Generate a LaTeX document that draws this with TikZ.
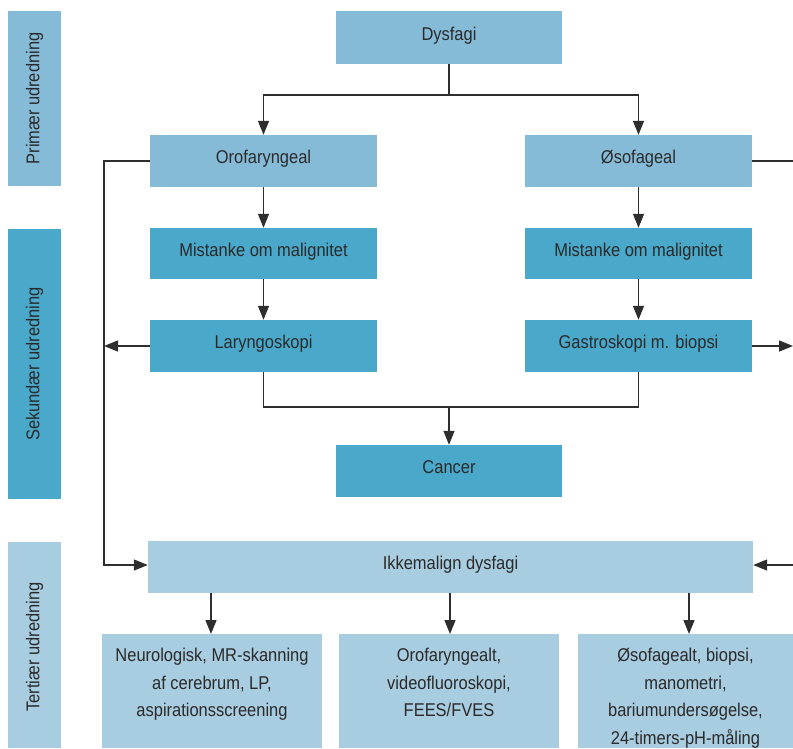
\documentclass[tikz,border=0pt]{standalone}
\usepackage{fontspec}
\setmainfont{Liberation Sans}[FakeStretch=0.89]
\usetikzlibrary{arrows.meta}
\definecolor{cA}{HTML}{86BBD8}
\definecolor{cB}{HTML}{4AA8CA}
\definecolor{cC}{HTML}{A8CCE0}
\definecolor{ink}{HTML}{2A2A2A}
\definecolor{ln}{HTML}{2E2E2E}
\tikzset{
  box/.style={inner sep=0pt, text=ink, font=\fontsize{18.5}{27.5}\selectfont, align=center},
  one/.style={text height=13.5pt, text depth=8pt},
  boxA/.style={box, one, fill=cA, minimum width=227pt, minimum height=52pt},
  boxB/.style={box, one, fill=cB, minimum width=227pt, minimum height=52pt},
  boxC/.style={box, fill=cC},
  bar/.style={inner sep=0pt, minimum width=53pt},
  bartext/.style={rotate=90, text=ink, font=\fontsize{18.5}{20}\selectfont},
  conn/.style={draw=ln, line width=1.4pt},
  arr/.style={conn, -{Triangle[length=14pt,width=11pt]}},
}
\begin{document}
\begin{tikzpicture}[x=1pt,y=-1pt]
\useasboundingbox (0,0) rectangle (793,748);
% level bars
\node[bar, fill=cA, minimum height=175pt] (barP) at (34.5,98.5) {};
\node[bartext] at (barP.center) {Primær udredning};
\node[bar, fill=cB, minimum height=270pt] (barS) at (34.5,364) {};
\node[bartext] at (barS.center) {Sekundær udredning};
\node[bar, fill=cC, minimum height=206pt] (barT) at (34.5,645) {};
\node[bartext] at (34.5,647) {Tertiær udredning};
% boxes
\node[boxA, minimum width=226pt, minimum height=53pt] (dys) at (449,37.5) {Dysfagi};
\node[boxA] (orof) at (263.5,161) {Orofaryngeal};
\node[boxA] (osof) at (638.5,161) {Øsofageal};
\node[boxB, minimum height=51pt] (misL) at (263.5,253.5) {Mistanke om malignitet};
\node[boxB, minimum height=51pt] (misR) at (638.5,253.5) {Mistanke om malignitet};
\node[boxB] (lar) at (263.5,346) {Laryngoskopi};
\node[boxB] (gas) at (638.5,346) {Gastroskopi m. biopsi};
\node[boxB, minimum width=226pt] (can) at (449,471) {Cancer};
\node[boxC, one, minimum width=605pt, minimum height=52pt] (ikke) at (450.5,567) {Ikkemalign dysfagi};
\node[boxC, minimum width=220pt, minimum height=114pt] (b1) at (212,691) {};
\node[boxC, minimum width=220pt, minimum height=114pt] (b2) at (449,691) {};
\node[boxC, minimum width=215pt, minimum height=114pt] (b3) at (685.5,691) {};
\node[box, anchor=north] (t1) at (212,648) {Neurologisk, MR-skanning\\af cerebrum, LP,\\aspirationsscreening};
\node[box, anchor=north] (t2) at (449,648) {Orofaryngealt,\\videofluoroskopi,\\FEES/FVES};
\node[box, anchor=north] (t3) at (685.5,648) {Øsofagealt, biopsi,\\manometri,\\bariumundersøgelse,\\24-timers-pH-måling};
% coordinates
\coordinate (j1) at (449,95);
\coordinate (j2) at (449,407);
\coordinate (lx1) at (104,161);
\coordinate (lx2) at (104,346);
\coordinate (rx1) at (793,161);
\coordinate (rx2) at (793,346);
\coordinate (rx3) at (793,565);
% connectors
\draw[conn] (dys.south) -- (j1);
\draw[arr] (j1) -| (orof.north);
\draw[arr] (j1) -| (osof.north);
\draw[arr] (orof.south) -- (misL.north);
\draw[arr] (osof.south) -- (misR.north);
\draw[arr] (misL.south) -- (lar.north);
\draw[arr] (misR.south) -- (gas.north);
\draw[conn] (lar.south) |- (j2);
\draw[conn] (gas.south) |- (j2);
\draw[arr] (j2) -- (can.north);
\draw[arr] (orof.west) -- (lx1) |- (ikke.west |- rx3);
\draw[arr] (lar.west) -- (lx2);
\draw[conn] (osof.east) -- (rx1);
\draw[arr] (gas.east) -- (rx2);
\draw[arr] (rx3) -- (ikke.east |- rx3);
\draw[arr] (211,593) -- (211,634);
\draw[arr] (450,593) -- (450,634);
\draw[arr] (689,593) -- (689,634);
\end{tikzpicture}
\end{document}
